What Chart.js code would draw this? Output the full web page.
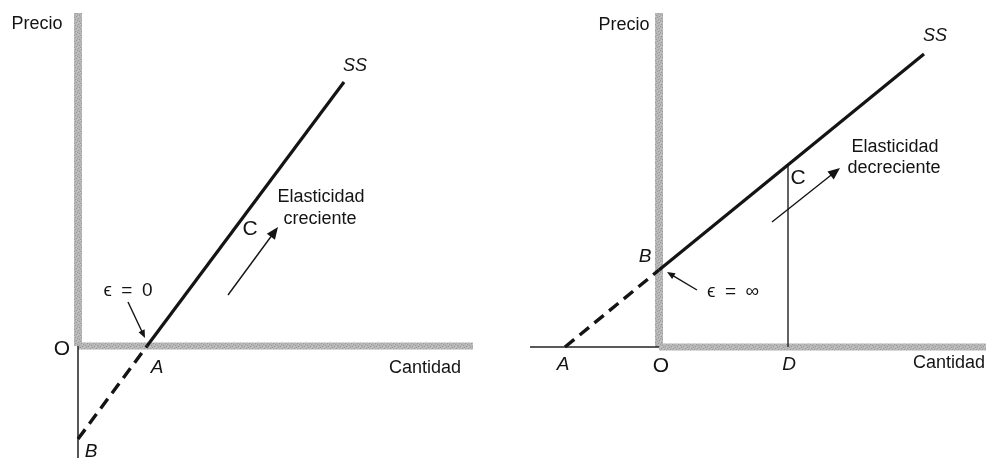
<!DOCTYPE html>
<html lang="es">
<head>
<meta charset="utf-8">
<script src="https://cdn.jsdelivr.net/npm/chart.js@4.4.1/dist/chart.umd.min.js"></script>
<style>
  html, body { margin: 0; padding: 0; background: #fff; }
  #wrap { display: flex; width: 986px; height: 462px; }
  canvas { display: block; }
</style>
</head>
<body>
<div id="wrap">
  <canvas id="izq" width="493" height="462"></canvas>
  <canvas id="der" width="493" height="462"></canvas>
</div>
<script>
'use strict';

// ── Panel izquierdo: SS corta el eje de cantidades en A ──────────
const izqCantidad = [0, 6.9, 26.6];     // B, A, extremo de SS
const izqPrecio   = [-9.3, 0, 26.4];
const izqEjeX     = [0, 39.5];          // eje de cantidades (x)
const izqEjeY     = [0, 33.3];          // eje de precios (y)
const izqBajoO    = [0, -11.2];         // prolongación bajo O

// ── Panel derecho: SS corta el eje de precios en B ───────────────
const derCantidad = [-9.4, 0, 26.5];    // A, B, extremo de SS
const derPrecio   = [0, 7.7, 29.3];
const derEjeX     = [0, 32.7];
const derEjeY     = [0, 33.4];
const derIzqO     = [-12.9, 0];         // prolongación a la izquierda de O
const derPuntoC   = [12.9, 18.2];       // C sobre SS (D debajo)

const FUENTE = '"Liberation Sans", Arial, sans-serif';
const TINTA = '#141414';

// gris granulado de los ejes (patrón fijo)
function grisEje() {
  const c = document.createElement('canvas');
  c.width = 6; c.height = 6;
  const g = c.getContext('2d');
  g.fillStyle = '#b6b6b6';
  g.fillRect(0, 0, 6, 6);
  g.fillStyle = '#9a9a9a';
  [[0, 0], [3, 1], [1, 3], [4, 4], [5, 2], [2, 5]].forEach(p => g.fillRect(p[0], p[1], 1, 1));
  g.fillStyle = '#c8c8c8';
  [[2, 0], [5, 5], [0, 4], [4, 2]].forEach(p => g.fillRect(p[0], p[1], 1, 1));
  return g.createPattern(c, 'repeat');
}
const GRIS = grisEje();

function pts(xs, ys) { return xs.map((x, i) => ({ x: x, y: ys[i] })); }

function linea(data, color, ancho, dash) {
  return {
    data: data, showLine: true, pointRadius: 0, borderColor: color,
    borderWidth: ancho, borderDash: dash || [], borderCapStyle: 'butt', fill: false
  };
}

// texto y flechas en unidades de los ejes
const rotulos = {
  izq: [
    { t: 'Precio', x: -4.1, y: 32.2, f: '18px ' + FUENTE },
    { t: 'SS', x: 27.7, y: 28.0, f: 'italic 18px ' + FUENTE },
    { t: 'Elasticidad', x: 24.3, y: 14.9, f: '18px ' + FUENTE },
    { t: 'creciente', x: 24.2, y: 12.7, f: '18px ' + FUENTE },
    { t: 'C', x: 17.2, y: 11.7, f: '21px ' + FUENTE },
    { t: '\u03F5\u2002=\u20020', x: 5.0, y: 5.5, f: '19px ' + FUENTE },
    { t: 'O', x: -1.6, y: -0.3, f: '21px ' + FUENTE },
    { t: 'A', x: 7.9, y: -2.2, f: 'italic 19px ' + FUENTE },
    { t: 'B', x: 1.3, y: -10.6, f: 'italic 19px ' + FUENTE },
    { t: 'Cantidad', x: 34.7, y: -2.2, f: '18px ' + FUENTE }
  ],
  der: [
    { t: 'Precio', x: -3.5, y: 32.2, f: '18px ' + FUENTE },
    { t: 'SS', x: 27.6, y: 31.1, f: 'italic 18px ' + FUENTE },
    { t: 'Elasticidad', x: 23.6, y: 20.0, f: '18px ' + FUENTE },
    { t: 'decreciente', x: 23.5, y: 17.9, f: '18px ' + FUENTE },
    { t: 'C', x: 13.9, y: 16.9, f: '21px ' + FUENTE },
    { t: 'B', x: -1.4, y: 9.0, f: 'italic 19px ' + FUENTE },
    { t: '\u03F5\u2002=\u2002\u221E', x: 7.4, y: 5.5, f: '19px ' + FUENTE },
    { t: 'A', x: -9.6, y: -1.8, f: 'italic 19px ' + FUENTE },
    { t: 'O', x: 0.2, y: -1.9, f: '21px ' + FUENTE },
    { t: 'D', x: 13.0, y: -1.8, f: 'italic 19px ' + FUENTE },
    { t: 'Cantidad', x: 29.0, y: -1.6, f: '18px ' + FUENTE }
  ]
};

const flechas = {
  izq: [
    { de: [15.0, 5.1], a: [20.0, 11.9], punta: 12 },
    { de: [5.0, 4.4], a: [6.7, 0.8], punta: 8 }
  ],
  der: [
    { de: [11.3, 12.5], a: [18.1, 17.9], punta: 12 },
    { de: [3.8, 5.7], a: [0.8, 7.5], punta: 8 }
  ]
};

const anotaciones = {
  id: 'anotaciones',
  afterDatasetsDraw(chart, args, opts) {
    const ctx = chart.ctx;
    const sx = chart.scales.x, sy = chart.scales.y;
    ctx.save();
    ctx.fillStyle = TINTA;
    ctx.strokeStyle = TINTA;
    ctx.textAlign = 'center';
    ctx.textBaseline = 'middle';
    (rotulos[opts.panel] || []).forEach(r => {
      ctx.font = r.f;
      ctx.fillText(r.t, sx.getPixelForValue(r.x), sy.getPixelForValue(r.y));
    });
    (flechas[opts.panel] || []).forEach(f => {
      const x0 = sx.getPixelForValue(f.de[0]), y0 = sy.getPixelForValue(f.de[1]);
      const x1 = sx.getPixelForValue(f.a[0]), y1 = sy.getPixelForValue(f.a[1]);
      const ang = Math.atan2(y1 - y0, x1 - x0);
      const L = f.punta, W = L * 0.42;
      ctx.lineWidth = 1.4;
      ctx.beginPath();
      ctx.moveTo(x0, y0);
      ctx.lineTo(x1 - Math.cos(ang) * L * 0.8, y1 - Math.sin(ang) * L * 0.8);
      ctx.stroke();
      ctx.beginPath();
      ctx.moveTo(x1, y1);
      ctx.lineTo(x1 - Math.cos(ang) * L - Math.sin(ang) * W, y1 - Math.sin(ang) * L + Math.cos(ang) * W);
      ctx.lineTo(x1 - Math.cos(ang) * L + Math.sin(ang) * W, y1 - Math.sin(ang) * L - Math.cos(ang) * W);
      ctx.closePath();
      ctx.fill();
    });
    ctx.restore();
  }
};

function opciones(panel, xmin, xmax, ymin, ymax) {
  return {
    responsive: false,
    animation: false,
    layout: { padding: 0 },
    plugins: { legend: { display: false }, tooltip: { enabled: false }, anotaciones: { panel: panel } },
    scales: {
      x: { type: 'linear', min: xmin, max: xmax, display: false },
      y: { type: 'linear', min: ymin, max: ymax, display: false }
    }
  };
}

// Izquierdo
new Chart(document.getElementById('izq'), {
  type: 'scatter',
  data: {
    datasets: [
      linea(pts(izqCantidad.slice(1), izqPrecio.slice(1)), TINTA, 3.2),
      linea(pts(izqCantidad.slice(0, 2), izqPrecio.slice(0, 2)), TINTA, 3.4, [12, 7]),
      linea(pts([0, 0], izqBajoO), '#222', 1.5),
      linea(pts(izqEjeX, [0, 0]), GRIS, 7),
      linea(pts([0, 0], izqEjeY), GRIS, 8)
    ]
  },
  options: opciones('izq', -7.8, 41.5, -11.6, 34.6),
  plugins: [anotaciones]
});

// Derecho
new Chart(document.getElementById('der'), {
  type: 'scatter',
  data: {
    datasets: [
      linea(pts(derCantidad.slice(1), derPrecio.slice(1)), TINTA, 3.2),
      linea(pts(derCantidad.slice(0, 2), derPrecio.slice(0, 2)), TINTA, 3.4, [12, 7]),
      linea(pts([derPuntoC[0], derPuntoC[0]], [0, derPuntoC[1]]), '#222', 1.4),
      linea(pts(derIzqO, [0, 0]), '#222', 1.5),
      linea(pts(derEjeX, [0, 0]), GRIS, 7),
      linea(pts([0, 0], derEjeY), GRIS, 8)
    ]
  },
  options: opciones('der', -16.6, 32.7, -11.5, 34.7),
  plugins: [anotaciones]
});
</script>
</body>
</html>
